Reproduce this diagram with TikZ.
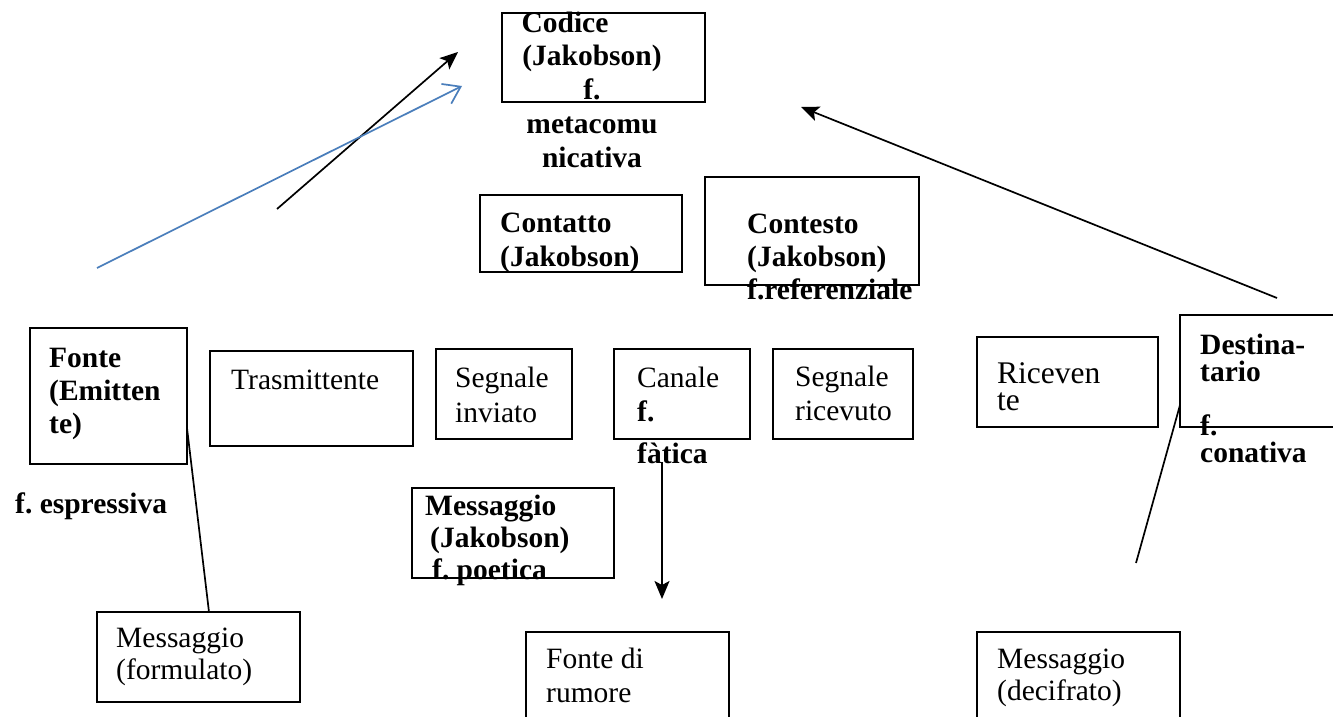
\documentclass[tikz,border=0pt]{standalone}
\usepackage{fontspec}
\setmainfont{Liberation Serif}
\usetikzlibrary{arrows.meta}
\definecolor{wblue}{HTML}{4A7EBB}
\frenchspacing
\begin{document}
\begin{tikzpicture}[x=1pt,y=-1pt,
  box/.style={draw, line width=1.7pt, inner sep=0pt, outer sep=0pt, anchor=north west},
  txt/.style={anchor=base west, inner sep=0pt, align=left, font=\fontsize{29.5}{34}\selectfont},
  btxt/.style={txt, font=\fontsize{29.5}{34}\selectfont\bfseries},
  conn/.style={line width=1.7pt},
  arr/.style={conn, -{Stealth[length=18pt,width=15pt,inset=4pt]}},
  barb/.style={conn, wblue, -{Straight Barb[length=16pt,width=22pt,line width=1.7pt]}},
]
\useasboundingbox (0,0) rectangle (1333,717);

% boxes
\node[box, minimum width=203pt, minimum height=89pt] (codice) at (502,13) {};
\node[box, minimum width=202pt, minimum height=77pt] (contatto) at (480,195) {};
\node[box, minimum width=214pt, minimum height=108pt] (contesto) at (705,177) {};
\node[box, minimum width=157pt, minimum height=136pt] (fonte) at (30,328) {};
\node[box, minimum width=203pt, minimum height=95pt] (trasm) at (210,351) {};
\node[box, minimum width=136pt, minimum height=90pt] (sinv) at (436,349) {};
\node[box, minimum width=136pt, minimum height=90pt] (canale) at (614,349) {};
\node[box, minimum width=140pt, minimum height=90pt] (sric) at (773,349) {};
\node[box, minimum width=181pt, minimum height=90pt] (ricev) at (977,337) {};
\node[box, minimum width=170pt, minimum height=112pt] (dest) at (1180,315) {};
\node[box, minimum width=202pt, minimum height=90pt] (mjak) at (412,488) {};
\node[box, minimum width=203pt, minimum height=90pt] (mform) at (97,612) {};
\node[box, minimum width=203pt, minimum height=100pt] (rumore) at (526,632) {};
\node[box, minimum width=203pt, minimum height=100pt] (mdec) at (977,632) {};

% texts (anchor = baseline of the last line)
\node[btxt, anchor=base, align=center, font=\fontsize{29.5}{33.75}\selectfont\bfseries] (tcodice) at (592,167)
  {Codice\hspace*{54pt}\\(Jakobson)\\f.\\metacomu\\nicativa};
\node[btxt] (tcontatto) at (500,266) {Contatto\\(Jakobson)};
\node[btxt, font=\fontsize{29.5}{33}\selectfont\bfseries] (tcontesto) at (747,299) {Contesto\\(Jakobson)\\f.referenziale};
\node[btxt, font=\fontsize{29.5}{33}\selectfont\bfseries] (tfonte) at (49,433) {Fonte\\(Emitten\\te)};
\node[btxt] (tespr) at (15,513) {f. espressiva};
\node[txt] (ttrasm) at (231,389) {Trasmittente};
\node[txt, font=\fontsize{29.5}{35}\selectfont] (tsinv) at (455,422) {Segnale\\inviato};
\node[txt] (tcanale) at (637,463) {Canale\\\textbf{f.}\\[8pt]\textbf{fàtica}};
\node[txt] (tsric) at (795,420) {Segnale\\ricevuto};
\node[txt, font=\fontsize{31.5}{27}\selectfont] (tricev) at (997,410) {Riceven\\te};
\node[btxt, font=\fontsize{29.5}{27}\selectfont\bfseries] (tdest) at (1200,462) {Destina-\\tario\\[27pt]f.\\conativa};
\node[btxt, font=\fontsize{29.5}{32}\selectfont\bfseries] (tmjak) at (425,579)
  {Messaggio\\\hspace*{5pt}(Jakobson)\\\hspace*{7pt}f. poetica};
\node[txt, font=\fontsize{29.5}{32}\selectfont] (tmform) at (116,679) {Messaggio\\(formulato)};
\node[txt] (trumore) at (546,702) {Fonte di\\rumore};
\node[txt, font=\fontsize{29.5}{32}\selectfont] (tmdec) at (997,700) {Messaggio\\(decifrato)};

% connector end points
\coordinate (k1s) at (277,209);
\coordinate (k1e) at (458,52);
\coordinate (b1s) at (97,268);
\coordinate (b1e) at (462,86);
\coordinate (k2s) at (1277,298);
\coordinate (k2e) at (801,107);
\coordinate (f1s) at (187,428);
\coordinate (f1e) at (209,612);
\coordinate (c1s) at (662,462);
\coordinate (c1e) at (662,599);
\coordinate (d1s) at (1180,405);
\coordinate (d1e) at (1136,563);

% connectors
\draw[arr] (k1s) -- (k1e);
\draw[barb] (b1s) -- (b1e);
\draw[arr] (k2s) -- (k2e);
\draw[conn] (f1s) -- (f1e);
\draw[arr] (c1s) -- (c1e);
\draw[conn] (d1s) -- (d1e);
\end{tikzpicture}
\end{document}
